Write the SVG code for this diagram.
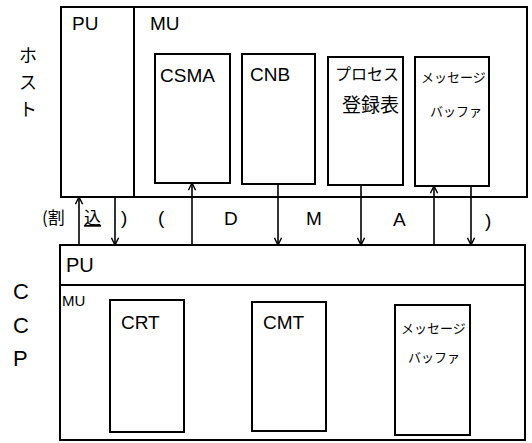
<svg xmlns="http://www.w3.org/2000/svg" width="532" height="443" viewBox="0 0 532 443">
<defs>
<marker id="ah" viewBox="0 0 10 10" refX="9" refY="5" markerWidth="9" markerHeight="9" orient="auto-start-reverse" markerUnits="userSpaceOnUse">
<path d="M1,1 L9,5 L1,9" fill="none" stroke="#000" stroke-width="1.6"/>
</marker>
<style>
.b{fill:none;stroke:#000;stroke-width:2}
.c{fill:none;stroke:#000;stroke-width:1.6;marker-end:url(#ah)}
.t{font-family:"Liberation Sans","Noto Sans CJK JP",sans-serif;font-size:19px;fill:#000}
.j{font-family:"Noto Sans CJK JP",sans-serif;font-size:15px;fill:#000}
</style>
</defs>
<rect width="532" height="443" fill="#fff"/>
<g id="host">
<rect class="b" x="61" y="7" width="466" height="190"/>
<line class="b" x1="134" y1="7" x2="134" y2="197"/>
<text class="t" x="72" y="30">PU</text>
<text class="t" x="150" y="30">MU</text>
</g>
<g id="host-label">
<text class="j" x="19" y="62" style="font-size:18px">ホ</text>
<text class="j" x="19" y="89" style="font-size:18px">ス</text>
<text class="j" x="19" y="116" style="font-size:18px">ト</text>
</g>
<g id="csma">
<rect class="b" x="155" y="54" width="75" height="129"/>
<text class="t" x="160" y="82">CSMA</text>
</g>
<g id="cnb">
<rect class="b" x="242" y="54" width="73" height="130"/>
<text class="t" x="250" y="81">CNB</text>
</g>
<g id="process">
<rect class="b" x="328" y="57" width="75" height="128"/>
<text class="j" x="335" y="80" style="font-size:16px">プロセス</text>
<text class="j" x="342" y="112" style="font-size:19px">登録表</text>
</g>
<g id="msgbuf-host">
<rect class="b" x="415" y="57" width="74" height="129"/>
<text class="j" x="421" y="82" style="font-size:13px">メッセージ</text>
<text class="j" x="430" y="116" style="font-size:13px">バッファ</text>
</g>
<g id="ccp">
<rect class="b" x="60" y="245" width="465" height="195"/>
<line class="b" x1="60" y1="285" x2="525" y2="285"/>
<text class="t" x="66" y="272" style="font-size:20px">PU</text>
<text class="t" x="62" y="306" style="font-size:15px">MU</text>
</g>
<g id="ccp-label">
<text class="t" x="13" y="299" style="font-size:22px">C</text>
<text class="t" x="13" y="333" style="font-size:22px">C</text>
<text class="t" x="13" y="366" style="font-size:22px">P</text>
</g>
<g id="crt">
<rect class="b" x="110" y="300" width="74" height="132"/>
<text class="t" x="121" y="329">CRT</text>
</g>
<g id="cmt">
<rect class="b" x="252" y="302" width="74" height="129"/>
<text class="t" x="263" y="329">CMT</text>
</g>
<g id="msgbuf-ccp">
<rect class="b" x="395" y="305" width="75" height="130"/>
<text class="j" x="401" y="333" style="font-size:13px">メッセージ</text>
<text class="j" x="408" y="362" style="font-size:13px">バッファ</text>
</g>
<g id="connectors">
<line class="c" x1="79" y1="245" x2="79" y2="197"/>
<line class="c" x1="115" y1="197" x2="115" y2="245"/>
<line class="c" x1="192" y1="245" x2="192" y2="183"/>
<line class="c" x1="278" y1="184" x2="278" y2="245"/>
<line class="c" x1="361" y1="185" x2="361" y2="245"/>
<line class="c" x1="434" y1="245" x2="434" y2="186"/>
<line class="c" x1="471" y1="186" x2="471" y2="245"/>
</g>
<g id="labels">
<text class="j" x="42" y="224" style="font-size:17px">(割</text>
<text class="j" x="84" y="224" style="font-size:17px;text-decoration:underline">込</text>
<text class="t" x="121" y="224">)</text>
<text class="t" x="158" y="224">(</text>
<text class="t" x="224" y="225">D</text>
<text class="t" x="306" y="225">M</text>
<text class="t" x="393" y="226">A</text>
<text class="t" x="485" y="227">)</text>
</g>
</svg>
